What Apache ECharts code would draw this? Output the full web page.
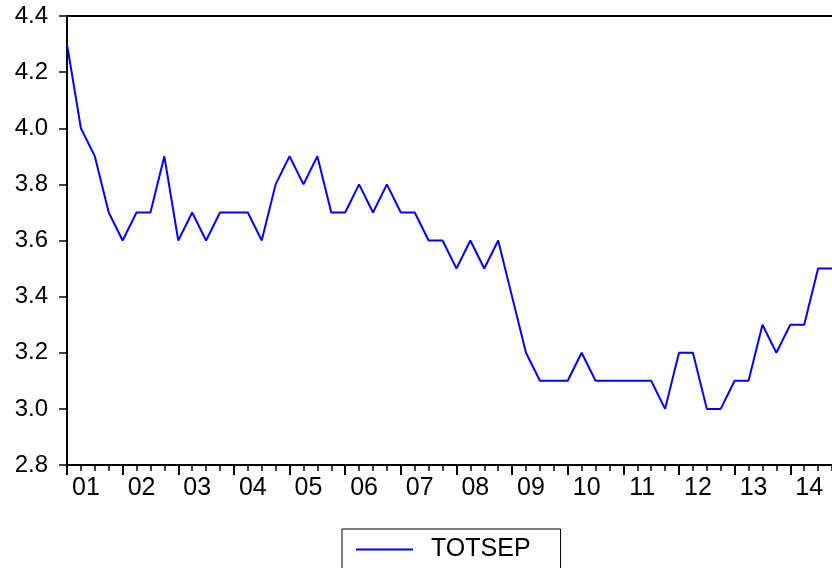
<!DOCTYPE html>
<html>
<head>
<meta charset="utf-8">
<script src="https://cdn.jsdelivr.net/npm/echarts@6/dist/echarts.min.js"></script>
<style>
html,body{margin:0;padding:0;background:#fff;}
#chart{width:832px;height:568px;}
</style>
</head>
<body>
<div id="chart"></div>
<script>
// Quarterly data 2001Q1 .. 2014Q4
const years = ['2001','2002','2003','2004','2005','2006','2007','2008','2009','2010','2011','2012','2013','2014'];
const quarters = ['Q1','Q2','Q3','Q4'];
const yearLabels = ['01','02','03','04','05','06','07','08','09','10','11','12','13','14'];
const totsep = [
  4.3, 4.0, 3.9, 3.7,
  3.6, 3.7, 3.7, 3.9,
  3.6, 3.7, 3.6, 3.7,
  3.7, 3.7, 3.6, 3.8,
  3.9, 3.8, 3.9, 3.7,
  3.7, 3.8, 3.7, 3.8,
  3.7, 3.7, 3.6, 3.6,
  3.5, 3.6, 3.5, 3.6,
  3.4, 3.2, 3.1, 3.1,
  3.1, 3.2, 3.1, 3.1,
  3.1, 3.1, 3.1, 3.0,
  3.2, 3.2, 3.0, 3.0,
  3.1, 3.1, 3.3, 3.2,
  3.3, 3.3, 3.5, 3.5
];
const yTicks = {min: 2.8, max: 4.4, interval: 0.2};

const categories = [];
years.forEach(y => quarters.forEach(q => categories.push(y + q)));

const FONT = 'Liberation Sans, Arial, sans-serif';
const chart = echarts.init(document.getElementById('chart'), null, {renderer: 'canvas'});
chart.setOption({
  animation: false,
  backgroundColor: '#fff',
  grid: {
    left: 67, top: 16, right: -4, bottom: 103,
    show: false
  },
  xAxis: [
    {
      type: 'category',
      data: categories,
      boundaryGap: false,
      position: 'bottom',
      axisLine: {show: true, lineStyle: {color: '#000', width: 2}},
      axisTick: {show: true, length: 10, inside: false, interval: (i) => i % 4 === 0, lineStyle: {color: '#000', width: 2}},
      axisLabel: {
        show: true,
        interval: (i) => i % 4 === 1,
        formatter: (v, i) => yearLabels[Math.floor(i / 4)],
        color: '#000', fontSize: 25, fontFamily: FONT,
        margin: 11, padding: [0, 0, 0, 10]
      },
      splitLine: {show: false}
    },
    {
      type: 'category',
      data: categories,
      boundaryGap: false,
      position: 'bottom',
      axisLine: {show: false},
      axisTick: {show: true, length: 6, interval: 0, lineStyle: {color: '#000', width: 1.5}},
      axisLabel: {show: false},
      splitLine: {show: false}
    },
    {
      type: 'category',
      data: categories,
      boundaryGap: false,
      position: 'top',
      axisLine: {show: true, lineStyle: {color: '#000', width: 2}},
      axisTick: {show: false},
      axisLabel: {show: false},
      splitLine: {show: false}
    }
  ],
  yAxis: {
    type: 'value',
    min: yTicks.min, max: yTicks.max, interval: yTicks.interval,
    axisLine: {show: true, lineStyle: {color: '#000', width: 2}},
    axisTick: {show: true, length: 8, lineStyle: {color: '#000', width: 1.5}},
    axisLabel: {
      color: '#000', fontSize: 24, fontFamily: FONT, margin: 19,
      formatter: (v) => v.toFixed(1)
    },
    splitLine: {show: false}
  },
  legend: {
    show: true,
    left: 342, top: 529,
    orient: 'horizontal',
    padding: [8, 30, 20, 13],
    borderColor: '#000', borderWidth: 1,
    itemWidth: 57, itemHeight: 14,
    itemStyle: {opacity: 0},
    textStyle: {color: '#000', fontSize: 25, fontFamily: FONT, padding: [0, 0, 0, 13]},
    data: ['TOTSEP']
  },
  series: [{
    name: 'TOTSEP',
    type: 'line',
    xAxisIndex: 0,
    data: totsep,
    symbol: 'none',
    showSymbol: false,
    lineStyle: {color: '#0000FF', width: 2},
    itemStyle: {color: '#0000FF'}
  }]
});
</script>
</body>
</html>
